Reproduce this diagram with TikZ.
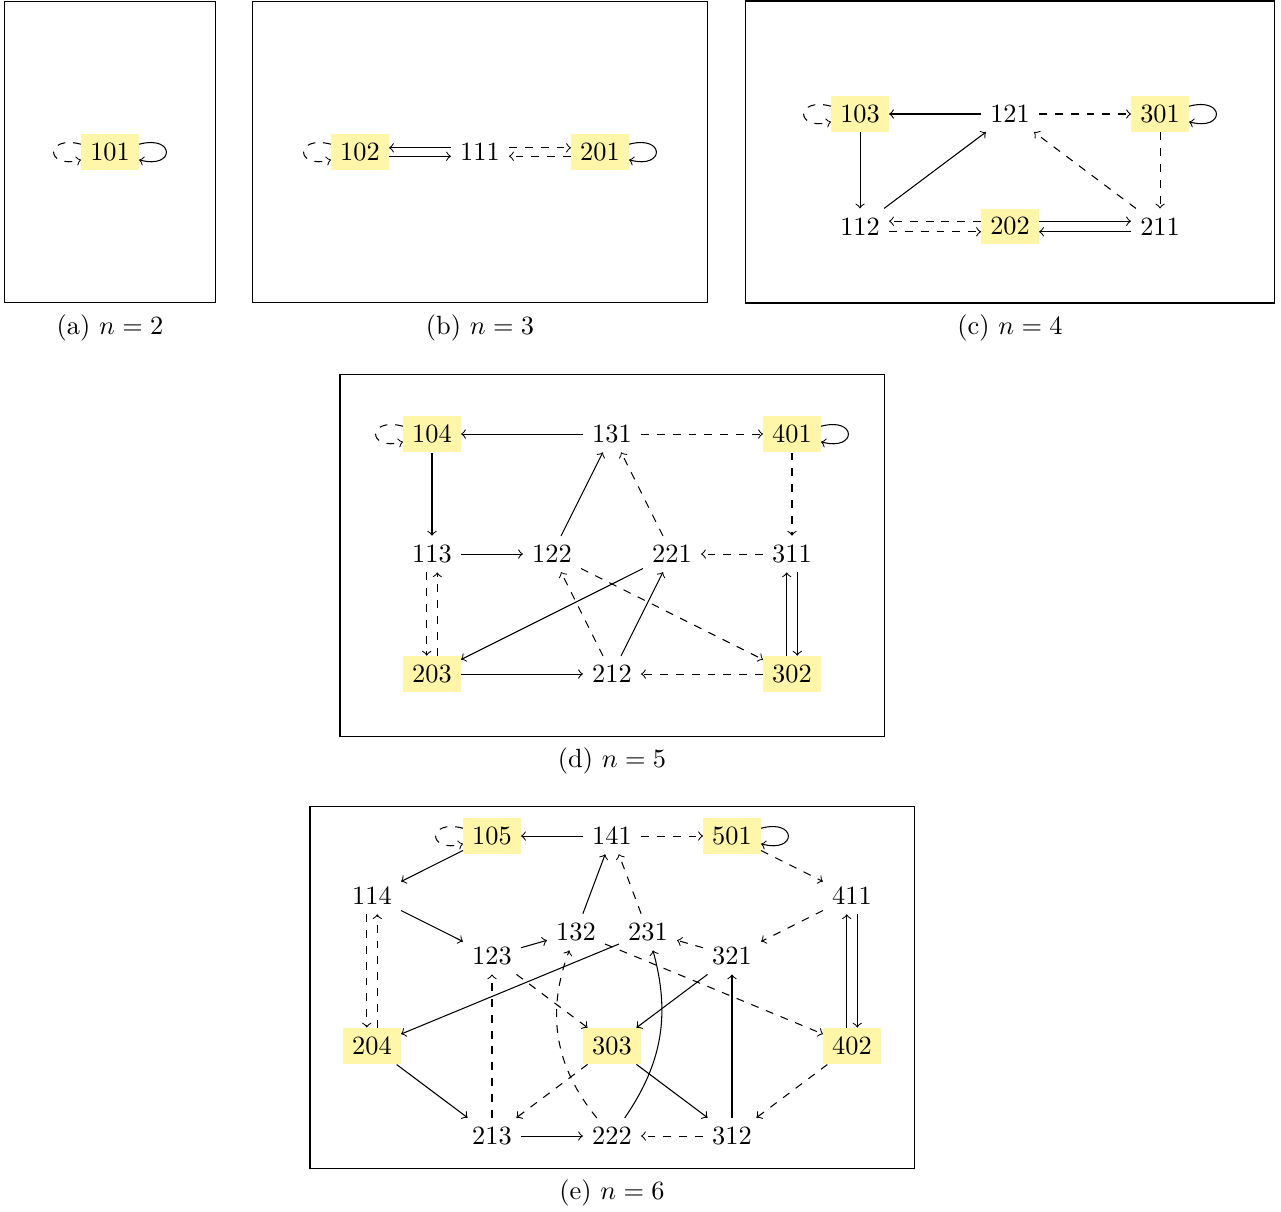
\documentclass[tikz,border=0pt]{standalone}
\definecolor{accbg}{RGB}{255,246,170}
\begin{document}
\begin{tikzpicture}[
	st/.style={inner sep=3.33pt},
	acc/.style={st,fill=accbg},
	every loop/.style={looseness=6},
	selfl/.style={out=165,in=195,loop},
	selfr/.style={out=15,in=-15,loop}]
	% page size, margins included
	\useasboundingbox (0,0) rectangle (17.08,-16.147);
	% (a) n=2
	\begin{scope}[shift={(1.467,-2.027)}]
		\draw (-1.41,-2.01) rectangle (1.41,2.01);
		\node[acc] (n101) at (0,0) {101};
		\draw[->,dashed] (n101) to[selfl] (n101);
		\draw[->] (n101) to[selfr] (n101);
		\node (capa) at (0,-2.35) {(a) $n=2$};
	\end{scope}
	% (b) n=3
	\begin{scope}[shift={(6.4,-2.027)}]
		\draw (-3.03,-2.01) rectangle (3.03,2.01);
		\node[acc] (n102) at (-1.6,0) {102};
		\node[st] (n111) at (0,0) {111};
		\node[acc] (n201) at (1.6,0) {201};
		\draw[->,dashed] (n102) to[selfl] (n102);
		\draw[->] (n201) to[selfr] (n201);
		% the double links
		\draw[->] ([yshift=1.6pt]n111.west) -- ([yshift=1.6pt]n102.east);
		\draw[->] ([yshift=-1.6pt]n102.east) -- ([yshift=-1.6pt]n111.west);
		\draw[->,dashed] ([yshift=1.6pt]n111.east) -- ([yshift=1.6pt]n201.west);
		\draw[->,dashed] ([yshift=-1.6pt]n201.west) -- ([yshift=-1.6pt]n111.east);
		\node (capb) at (0,-2.35) {(b) $n=3$};
	\end{scope}
	% (c) n=4
	\begin{scope}[shift={(13.467,-1.52)}]
		\draw (-3.53,-2.52) rectangle (3.53,1.507);
		\node[acc] (n103) at (-2,0) {103};
		\node[st] (n121) at (0,0) {121};
		\node[acc] (n301) at (2,0) {301};
		\node[st] (n112) at (-2,-1.5) {112};
		\node[acc] (n202) at (0,-1.5) {202};
		\node[st] (n211) at (2,-1.5) {211};
		\draw[->,dashed] (n103) to[selfl] (n103);
		\draw[->] (n301) to[selfr] (n301);
		\draw[->] (n121) -- (n103);
		\draw[->,dashed] (n121) -- (n301);
		\draw[->] (n103) -- (n112);
		\draw[->] (n112) -- (n121);
		\draw[->,dashed] (n301) -- (n211);
		\draw[->,dashed] (n211) -- (n121);
		% the bottom row, both ways
		\draw[->,dashed] ([yshift=2pt]n202.west) -- ([yshift=2pt]n112.east);
		\draw[->,dashed] ([yshift=-2pt]n112.east) -- ([yshift=-2pt]n202.west);
		\draw[->] ([yshift=2pt]n202.east) -- ([yshift=2pt]n211.west);
		\draw[->] ([yshift=-2pt]n211.west) -- ([yshift=-2pt]n202.east);
		\node (capc) at (0,-2.853) {(c) $n=4$};
	\end{scope}
	% (d) n=5
	\begin{scope}[shift={(8.16,-5.787)}]
		\draw (-3.627,-4.027) rectangle (3.627,0.8);
		\node[acc] (n104) at (-2.4,0) {104};
		\node[st] (n131) at (0,0) {131};
		\node[acc] (n401) at (2.4,0) {401};
		\node[st] (n113) at (-2.4,-1.6) {113};
		\node[st] (n122) at (-0.8,-1.6) {122};
		\node[st] (n221) at (0.8,-1.6) {221};
		\node[st] (n311) at (2.4,-1.6) {311};
		\node[acc] (n203) at (-2.4,-3.2) {203};
		\node[st] (n212) at (0,-3.2) {212};
		\node[acc] (n302) at (2.4,-3.2) {302};
		\draw[->,dashed] (n104) to[selfl] (n104);
		\draw[->] (n401) to[selfr] (n401);
		\draw[->] (n131) -- (n104);
		\draw[->,dashed] (n131) -- (n401);
		\draw[->] (n104) -- (n113);
		\draw[->,dashed] (n401) -- (n311);
		\draw[->] (n113) -- (n122);
		\draw[->] (n122) -- (n131);
		\draw[->,dashed] (n221) -- (n131);
		\draw[->,dashed] (n311) -- (n221);
		\draw[->] (n221) -- (n203);
		\draw[->,dashed] (n122) -- (n302);
		\draw[->,dashed] (n212) -- (n122);
		\draw[->] (n212) -- (n221);
		\draw[->] (n203) -- (n212);
		\draw[->,dashed] (n302) -- (n212);
		% left and right columns, both ways
		\draw[->,dashed] ([xshift=-2pt]n113.south) -- ([xshift=-2pt]n203.north);
		\draw[->,dashed] ([xshift=2pt]n203.north) -- ([xshift=2pt]n113.south);
		\draw[->] ([xshift=-2pt]n302.north) -- ([xshift=-2pt]n311.south);
		\draw[->] ([xshift=2pt]n311.south) -- ([xshift=2pt]n302.north);
		\node (capd) at (0,-4.36) {(d) $n=5$};
	\end{scope}
	% (e) n=6
	\begin{scope}[shift={(8.16,-11.147)}]
		\draw (-4.027,-4.427) rectangle (4.027,0.4);
		\node[acc] (n105) at (-1.6,0) {105};
		\node[st] (n141) at (0,0) {141};
		\node[acc] (n501) at (1.6,0) {501};
		\node[st] (n114) at (-3.2,-0.8) {114};
		\node[st] (n411) at (3.2,-0.8) {411};
		\node[st] (n132) at (-0.48,-1.28) {132};
		\node[st] (n231) at (0.48,-1.28) {231};
		\node[st] (n123) at (-1.6,-1.6) {123};
		\node[st] (n321) at (1.6,-1.6) {321};
		\node[acc] (n204) at (-3.2,-2.8) {204};
		\node[acc] (n303) at (0,-2.8) {303};
		\node[acc] (n402) at (3.2,-2.8) {402};
		\node[st] (n213) at (-1.6,-4) {213};
		\node[st] (n222) at (0,-4) {222};
		\node[st] (n312) at (1.6,-4) {312};
		\draw[->,dashed] (n105) to[selfl] (n105);
		\draw[->] (n501) to[selfr] (n501);
		\draw[->] (n141) -- (n105);
		\draw[->,dashed] (n141) -- (n501);
		\draw[->] (n105) -- (n114);
		\draw[->,dashed] (n501) -- (n411);
		\draw[->] (n114) -- (n123);
		\draw[->,dashed] (n411) -- (n321);
		\draw[->] (n123) -- (n132);
		\draw[->] (n132) -- (n141);
		\draw[->,dashed] (n231) -- (n141);
		\draw[->,dashed] (n321) -- (n231);
		\draw[->] (n231) -- (n204);
		\draw[->,dashed] (n132) -- (n402);
		\draw[->,dashed] (n123) -- (n303);
		\draw[->] (n321) -- (n303);
		\draw[->] (n204) -- (n213);
		\draw[->,dashed] (n213) -- (n123);
		\draw[->,dashed] (n303) -- (n213);
		\draw[->] (n303) -- (n312);
		\draw[->,dashed] (n402) -- (n312);
		\draw[->] (n213) -- (n222);
		\draw[->,dashed] (n312) -- (n222);
		\draw[->] (n312) -- (n321);
		% the two bent ones
		\draw[->,dashed] (n222) to[bend left=30] (n132);
		\draw[->] (n222) to[bend right=25] (n231);
		% left and right columns, both ways
		\draw[->,dashed] ([xshift=-2pt]n114.south) -- ([xshift=-2pt]n204.north);
		\draw[->,dashed] ([xshift=2pt]n204.north) -- ([xshift=2pt]n114.south);
		\draw[->] ([xshift=-2pt]n402.north) -- ([xshift=-2pt]n411.south);
		\draw[->] ([xshift=2pt]n411.south) -- ([xshift=2pt]n402.north);
		\node (cape) at (0,-4.76) {(e) $n=6$};
	\end{scope}
\end{tikzpicture}
\end{document}
